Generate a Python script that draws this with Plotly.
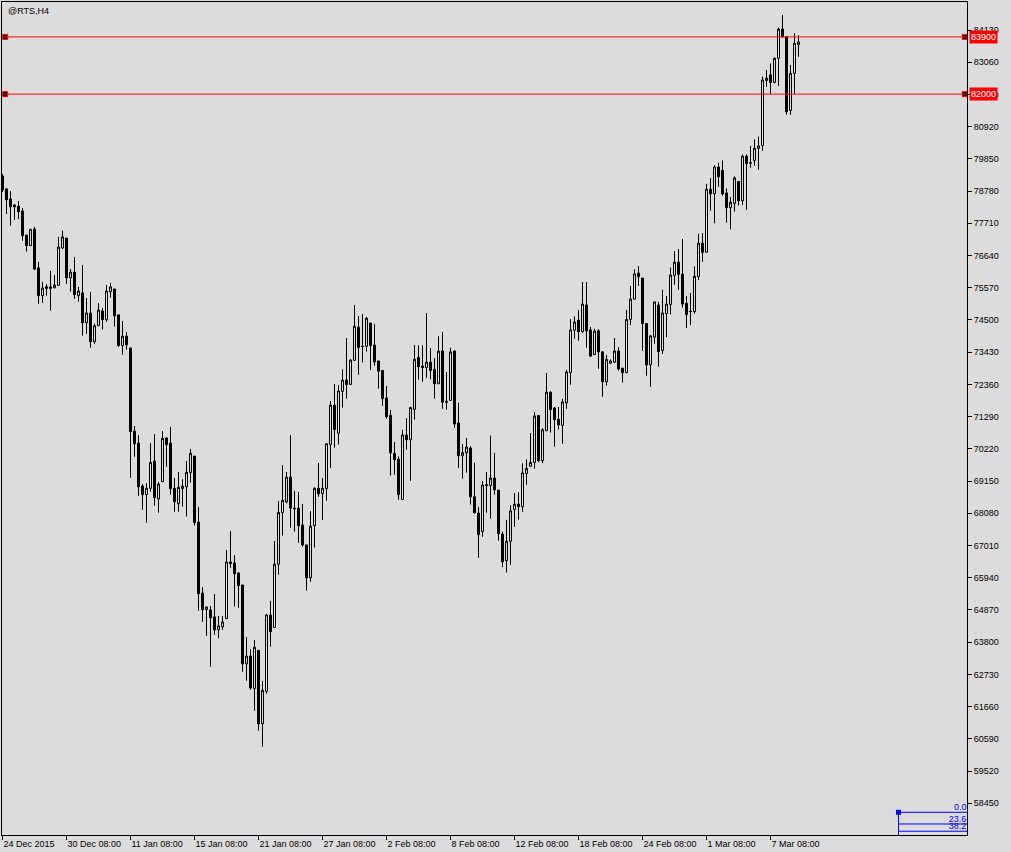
import plotly.graph_objects as go

# ---- candle data (H4 bars of @RTS) ----
opens = [79280, 78850, 78520, 78320, 78280, 78120, 77320, 76970, 77520, 76230,
         75310, 75600, 75600, 75570, 75650, 76890, 77220, 75900, 76090, 75310,
         75400, 74410, 74730, 73780, 74310, 74800, 74510, 75440, 75530, 74670,
         73650, 73960, 73570, 70810, 70410, 68990, 68700, 68910, 69810, 68560,
         69130, 70580, 70410, 68910, 68400, 68900, 68960, 69430, 69980, 67790,
         65430, 64880, 64870, 64640, 64210, 64310, 64580, 66460, 66430, 66100,
         65700, 63080, 63340, 62260, 63530, 61090, 62170, 64700, 64290, 66390,
         68110, 68460, 69280, 68250, 68250, 67690, 67030, 65940, 67670, 68910,
         68730, 68900, 70370, 71670, 70740, 72130, 72510, 72360, 73160, 74260,
         73630, 73630, 74400, 73670, 73140, 72820, 71910, 71330, 70070, 69870,
         68540, 70680, 70520, 71530, 73260, 72970, 72920, 73100, 72860, 72380,
         73470, 71800, 71830, 73470, 71080, 69990, 70090, 70250, 68630, 68090,
         67470, 69000, 69000, 69250, 68850, 67390, 66510, 67150, 68210, 68390,
         68300, 69400, 69640, 69770, 71330, 69830, 70820, 72100, 71580, 71200,
         71000, 71750, 72750, 74160, 74500, 74110, 75000, 74170, 73350, 74140,
         73440, 72450, 73060, 73100, 73470, 72900, 72750, 74520, 75190, 76060,
         75890, 74380, 73010, 73930, 75000, 73490, 74710, 75010, 75980, 76420,
         76020, 75050, 74790, 74780, 75940, 77050, 76750, 78840, 78690, 79580,
         79470, 78720, 78230, 78370, 79100, 78460, 79940, 79720, 79800, 80200,
         80290, 82450, 82640, 82390, 83190, 84160, 83910, 81460, 82690, 83640]
highs = [79350, 78880, 78780, 78350, 78450, 78220, 77320, 77510, 77590, 76430,
         75760, 75690, 76130, 75990, 77260, 77470, 77220, 76190, 76590, 75600,
         76330, 75230, 75430, 74380, 75060, 74900, 75660, 75730, 75530, 74670,
         74470, 74100, 73570, 70980, 70680, 69050, 69080, 70410, 70710, 69120,
         70810, 70610, 70950, 69250, 69450, 69210, 69820, 70220, 69980, 68290,
         65630, 64970, 65000, 65400, 64670, 64670, 66860, 67490, 66690, 66130,
         65700, 63970, 63570, 63870, 63530, 62510, 64740, 65170, 67160, 68490,
         69680, 69450, 70680, 68820, 68790, 68390, 67030, 68150, 68940, 69750,
         69250, 70390, 71810, 72370, 72340, 72860, 73900, 73190, 75000, 74630,
         74700, 74600, 74400, 74370, 73140, 72840, 72310, 71510, 70450, 69970,
         70850, 71240, 71620, 73670, 73660, 73660, 74730, 73570, 73230, 73960,
         74100, 72770, 73580, 73500, 71750, 70380, 70580, 70310, 69760, 68290,
         69150, 69450, 70660, 70090, 68850, 67470, 67860, 68350, 68750, 68780,
         69740, 69870, 70740, 71440, 71330, 70910, 72740, 72130, 71610, 71610,
         71880, 72840, 74530, 74620, 74830, 75760, 75760, 74270, 74210, 74190,
         73470, 73340, 73190, 73900, 73600, 72900, 74830, 75630, 76180, 76290,
         75890, 74400, 74000, 75100, 75100, 75500, 75300, 76240, 76790, 76860,
         77190, 75300, 75400, 76280, 77360, 77380, 79020, 79210, 79640, 79720,
         79800, 78870, 78590, 79270, 79100, 79990, 80000, 80280, 80500, 80590,
         82580, 82800, 83020, 83220, 84210, 84630, 83910, 82970, 84020, 83960]
lows = [78750, 78020, 77630, 77820, 77850, 77130, 76770, 76970, 76160, 75040,
        75070, 75310, 74810, 75550, 75630, 76860, 75700, 75440, 75200, 75110,
        73980, 74040, 73580, 73710, 74310, 74180, 74440, 75240, 74280, 73610,
        73350, 73510, 69260, 69960, 68660, 68200, 67770, 68800, 68330, 68100,
        69130, 69630, 68700, 68130, 68130, 68300, 67970, 69100, 67670, 64850,
        64480, 64010, 62990, 64050, 63930, 64210, 64580, 66270, 64980, 64940,
        62820, 62520, 62220, 61520, 60860, 60330, 62090, 63650, 64290, 66040,
        67340, 68410, 67600, 67470, 67100, 66970, 65510, 65810, 66940, 68630,
        67860, 68500, 69590, 70260, 70360, 71590, 71890, 72360, 73160, 72680,
        73090, 73450, 72830, 72980, 72220, 71650, 71220, 69330, 69360, 68530,
        68540, 70190, 69160, 71190, 72520, 72450, 72580, 72530, 71890, 72380,
        71550, 71520, 71830, 70920, 69590, 69230, 69430, 68370, 68070, 66600,
        67300, 68100, 67900, 68700, 67170, 66290, 66110, 66360, 67630, 67870,
        68130, 69030, 69640, 69560, 69780, 69750, 70820, 70760, 70290, 70860,
        70390, 71550, 72350, 73880, 73810, 74080, 73580, 73270, 73350, 72880,
        71950, 72320, 73060, 73070, 72820, 72420, 72750, 74330, 75190, 75630,
        73470, 72650, 72280, 73710, 72950, 73370, 73930, 74680, 75670, 75500,
        74910, 74230, 74330, 74710, 75830, 76430, 76750, 78130, 77710, 78930,
        78630, 77730, 77510, 78100, 78300, 78320, 78160, 79560, 79620, 79490,
        80120, 82240, 82000, 82360, 82270, 83870, 81320, 81310, 82000, 83240]
closes = [78820, 78490, 78260, 78260, 78100, 77300, 76970, 77510, 76190, 75310,
          75560, 75550, 75550, 75660, 76920, 77260, 75900, 76090, 75340, 75460,
          74410, 74730, 73780, 74310, 74830, 74510, 75460, 75600, 74640, 73650,
          73960, 73670, 70790, 70390, 68960, 68700, 68910, 69770, 68600, 69050,
          70570, 70360, 68900, 68460, 68940, 68980, 69440, 70070, 67770, 65410,
          64880, 64970, 64610, 64210, 64340, 64470, 66460, 66410, 66070, 65680,
          63080, 63340, 62280, 63630, 61090, 62200, 64700, 64150, 66390, 68110,
          68510, 69280, 68250, 68230, 67670, 67030, 65940, 67650, 68910, 68730,
          68910, 70390, 71670, 70860, 72140, 72500, 72360, 73170, 74290, 73590,
          73620, 74560, 73650, 73110, 72800, 71890, 71290, 70090, 69860, 68700,
          70680, 70520, 71590, 73190, 72950, 72920, 73100, 72820, 72380, 73460,
          71770, 71770, 73440, 71050, 69990, 70090, 70280, 68630, 68100, 67370,
          69020, 69030, 69250, 68860, 67400, 66470, 67150, 68160, 68380, 68300,
          69420, 69570, 69770, 71310, 69830, 70850, 72100, 71520, 71190, 71020,
          71780, 72770, 74170, 74430, 74110, 75030, 74140, 73300, 74130, 73440,
          72450, 73190, 73140, 73470, 72870, 72750, 74520, 75190, 76030, 75940,
          74380, 73010, 73970, 75100, 73450, 74730, 75030, 75990, 76420, 76020,
          75030, 74680, 74780, 75950, 77050, 76750, 78840, 78690, 79580, 79260,
          78690, 78230, 78410, 79220, 78460, 79940, 79690, 79710, 80200, 80280,
          82470, 82530, 82390, 83190, 84160, 83910, 81420, 82690, 83690, 83730]

# time axis labels: one every 16 bars
tick_bars = [0, 16, 32, 48, 64, 80, 96, 112, 128, 144, 160, 176, 192]
tick_labels = ["24 Dec 2015", "30 Dec 08:00", "11 Jan 08:00", "15 Jan 08:00",
               "21 Jan 08:00", "27 Jan 08:00", "2 Feb 08:00", "8 Feb 08:00",
               "12 Feb 08:00", "18 Feb 08:00", "24 Feb 08:00", "1 Mar 08:00",
               "7 Mar 08:00"]

# price axis labels
price_ticks = [58450, 59520, 60590, 61660, 62730, 63800, 64870, 65940, 67010,
               68080, 69150, 70220, 71290, 72360, 73430, 74500, 75570, 76640,
               77710, 78780, 79850, 80920, 81990, 83060, 84130]

# horizontal level lines
levels = [83900, 82000]

# Fibonacci object in the lower-right corner
fib_levels = [0.0, 23.6, 38.2, 50.0, 61.8, 100.0]
fib_labels = ["0.0", "23.6", "38.2", "50.0", "61.8", "100.0"]
fib_top = 58150
fib_bottom = 56505
fib_bar = 224

title_text = "@RTS,H4"

BG = "#DCDCDC"
FONT = "Liberation Sans"

x_range = [-0.125, 241.125]
y_range = [57396, 85060]

bars = list(range(len(opens)))

fig = go.Figure()

fig.add_trace(go.Candlestick(
    x=bars, open=opens, high=highs, low=lows, close=closes,
    increasing=dict(line=dict(color="black", width=1), fillcolor=BG),
    decreasing=dict(line=dict(color="black", width=1), fillcolor="black"),
    whiskerwidth=0, hoverinfo="skip", showlegend=False,
))

# level lines
for lv in levels:
    fig.add_shape(type="line", xref="paper", yref="y", x0=0, x1=1, y0=lv, y1=lv,
                  line=dict(color="#FF0000", width=1), layer="above")
    fig.add_annotation(xref="paper", yref="y", x=1, y=lv, xanchor="left",
                       yanchor="middle", xshift=2, text=str(lv), showarrow=False,
                       bgcolor="#FF0000", borderpad=1,
                       font=dict(family=FONT, size=9, color="white"))

# handles of the level lines
hx = []
hy = []
for lv in levels:
    hx += [x_range[0] + 0.8, x_range[1] - 0.55]
    hy += [lv, lv]
fig.add_trace(go.Scatter(
    x=hx, y=hy, mode="markers", cliponaxis=False, hoverinfo="skip", showlegend=False,
    marker=dict(symbol="square", size=5, color="black", line=dict(color="#FF0000", width=1)),
))

# Fibonacci levels
fib_prices = [fib_top - (fib_top - fib_bottom) * f / 100.0 for f in fib_levels]
for fp in fib_prices:
    fig.add_shape(type="line", xref="x", yref="y", x0=fib_bar, x1=x_range[1],
                  y0=fp, y1=fp, line=dict(color="#0000FF", width=1), layer="above")
fig.add_shape(type="line", xref="x", yref="y", x0=fib_bar, x1=fib_bar,
              y0=fib_top, y1=fib_bottom, line=dict(color="#0000FF", width=1), layer="above")
fig.add_trace(go.Scatter(
    x=[x_range[1] - 0.15] * len(fib_prices), y=fib_prices, text=fib_labels,
    mode="text", textposition="top left", cliponaxis=True,
    textfont=dict(family=FONT, size=9, color="#0000FF"),
    hoverinfo="skip", showlegend=False,
))
fig.add_trace(go.Scatter(
    x=[fib_bar], y=[fib_top], mode="markers", hoverinfo="skip", showlegend=False,
    marker=dict(symbol="square", size=5, color="#0000FF"),
))

# chart title
fig.add_annotation(xref="paper", yref="paper", x=0.004, y=0.998, xanchor="left",
                   yanchor="top", text=title_text, showarrow=False,
                   font=dict(family=FONT, size=9, color="black"))

fig.update_layout(
    width=1011, height=852,
    margin=dict(l=2, r=44, t=2, b=17, autoexpand=False),
    paper_bgcolor=BG, plot_bgcolor=BG,
    boxgap=0.5, boxgroupgap=0,
    showlegend=False,
    font=dict(family=FONT, size=9, color="black"),
    xaxis=dict(
        range=x_range, rangeslider=dict(visible=False),
        tickmode="array", tickvals=tick_bars, ticktext=tick_labels,
        ticks="outside", ticklen=4, tickcolor="black", tickwidth=1,
        ticklabelposition="outside right",
        showgrid=False, zeroline=False,
        showline=True, linecolor="black", linewidth=1, mirror=True,
        tickfont=dict(family=FONT, size=9, color="black"),
    ),
    yaxis=dict(
        range=y_range, side="right",
        tickmode="array", tickvals=price_ticks, ticktext=[str(p) for p in price_ticks],
        ticks="outside", ticklen=4, tickcolor="black", tickwidth=1,
        showgrid=False, zeroline=False,
        showline=True, linecolor="black", linewidth=1, mirror=True,
        tickfont=dict(family=FONT, size=9, color="black"),
    ),
)

fig.write_html(
    "out.html",
    config={"displayModeBar": False},
    post_script="document.body.style.margin='0';document.body.style.overflow='hidden';"
                "document.body.style.background='" + BG + "';",
)
